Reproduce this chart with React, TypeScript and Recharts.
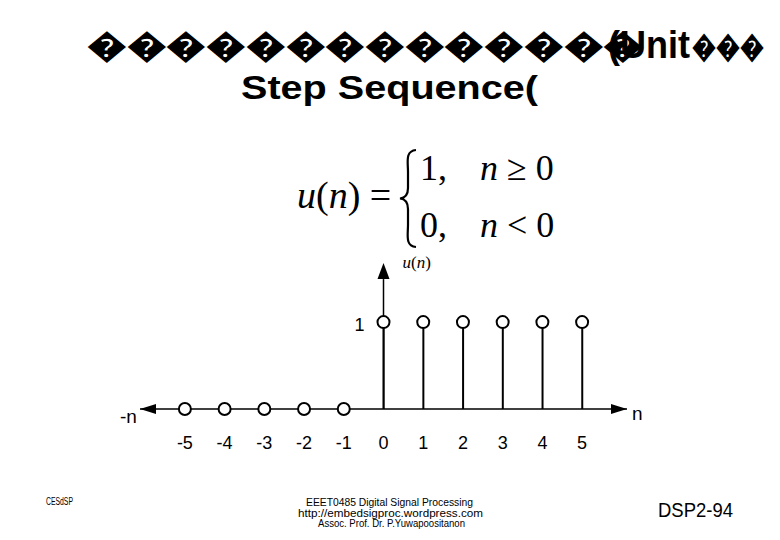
import React from 'react';
import {
  ComposedChart,
  Bar,
  Scatter,
  XAxis,
  YAxis,
  ReferenceLine,
  ReferenceDot,
} from 'recharts';

// sample index n and unit step value u(n)
const nValues = [-5, -4, -3, -2, -1, 0, 1, 2, 3, 4, 5];
const uValues = [0, 0, 0, 0, 0, 1, 1, 1, 1, 1, 1];
const xTicks = [-5, -4, -3, -2, -1, 0, 1, 2, 3, 4, 5];

const titleBoxes = '\uFFFD'.repeat(14);
const titleTail = '\uFFFD'.repeat(3);

const data = nValues.map((n, i) => ({ n, u: uValues[i] }));

const X_MIN = -6.13;
const X_MAX = 6.13;
const Y_MAX = 1.68;
const ARROW_BASE = 1.495;

const sans = '"Liberation Sans", Arial, sans-serif';
const serif = '"Liberation Serif", "Times New Roman", serif';

const Circle = (props: any) => {
  const { cx, cy } = props;
  if (cx == null || cy == null) return null;
  return <circle cx={cx} cy={cy} r={6} fill="#fff" stroke="#000" strokeWidth={2} />;
};

const LeftArrow = (props: any) => {
  const { cx, cy } = props;
  return (
    <g>
      <polygon points={`${cx},${cy} ${cx + 16},${cy - 5} ${cx + 16},${cy + 5}`} fill="#000" />
      <text x={cx - 20} y={cy + 14} fontFamily={sans} fontSize={19} fill="#000">
        -n
      </text>
    </g>
  );
};

const RightArrow = (props: any) => {
  const { cx, cy } = props;
  return (
    <g>
      <polygon points={`${cx},${cy} ${cx - 16},${cy - 5} ${cx - 16},${cy + 5}`} fill="#000" />
      <text x={cx + 5} y={cy + 11} fontFamily={sans} fontSize={19} fill="#000">
        n
      </text>
    </g>
  );
};

const UpArrow = (props: any) => {
  const { cx, cy } = props;
  return (
    <g>
      <polygon points={`${cx},${cy} ${cx - 6},${cy + 16} ${cx + 6},${cy + 16}`} fill="#000" />
      <text x={cx + 19} y={cy + 5} fontFamily={serif} fontSize={17} fill="#000">
        <tspan fontStyle="italic">u</tspan>(<tspan fontStyle="italic">n</tspan>)
      </text>
    </g>
  );
};

const OneLabel = (props: any) => {
  const { cx, cy } = props;
  return (
    <text x={cx - 24} y={cy + 9} fontFamily={sans} fontSize={18} textAnchor="middle" fill="#000">
      1
    </text>
  );
};

export default function App() {
  return (
    <div style={{ position: 'absolute', left: 0, top: 0, width: 780, height: 540, background: '#fff' }}>
      <ComposedChart
        width={780}
        height={540}
        data={data}
        margin={{ top: 263, right: 153, bottom: 91, left: 140 }}
      >
        <XAxis
          dataKey="n"
          type="number"
          domain={[X_MIN, X_MAX]}
          ticks={xTicks}
          interval={0}
          height={40}
          tickLine={false}
          tickMargin={21}
          axisLine={{ stroke: '#000', strokeWidth: 1.5 }}
          tick={{ fill: '#000', fontSize: 18, fontFamily: sans }}
        />
        <YAxis type="number" domain={[0, Y_MAX]} hide />
        <Bar dataKey="u" barSize={2} fill="#000" isAnimationActive={false} />
        <ReferenceLine
          segment={[
            { x: 0, y: 0 },
            { x: 0, y: ARROW_BASE },
          ]}
          stroke="#000"
          strokeWidth={1.5}
          ifOverflow="visible"
        />
        <ReferenceDot x={X_MIN} y={0} ifOverflow="visible" shape={LeftArrow} />
        <ReferenceDot x={X_MAX} y={0} ifOverflow="visible" shape={RightArrow} />
        <ReferenceDot x={0} y={Y_MAX} ifOverflow="visible" shape={UpArrow} />
        <ReferenceDot x={0} y={1} ifOverflow="visible" shape={OneLabel} />
        <Scatter dataKey="u" shape={Circle} isAnimationActive={false} />
      </ComposedChart>

      <svg
        width={780}
        height={540}
        style={{ position: 'absolute', left: 0, top: 0, pointerEvents: 'none' }}
      >
        {/* title */}
        <text x={87} y={57} fontFamily={sans} fontWeight="bold" fontSize={33} textLength={556} lengthAdjust="spacingAndGlyphs">
          {titleBoxes}
        </text>
        <text x={692} y={57} fontFamily={sans} fontWeight="bold" fontSize={30} textLength={72} lengthAdjust="spacingAndGlyphs">
          {titleTail}
        </text>
        <text x={608} y={58} fontFamily={sans} fontWeight="bold" fontSize={38} textLength={82} lengthAdjust="spacingAndGlyphs">
          (Unit
        </text>
        <text x={241} y={99} fontFamily={sans} fontWeight="bold" fontSize={34} textLength={297} lengthAdjust="spacingAndGlyphs">
          Step Sequence(
        </text>

        {/* formula */}
        <text x={297} y={208} fontFamily={serif} fontSize={38}>
          <tspan fontStyle="italic">u</tspan>(<tspan fontStyle="italic">n</tspan>) =
        </text>
        <path
          d="M416,150 C405,151 408,162 408,172 L408,188 C408,195 405,198 400,198.5 C405,199 408,202 408,209 L408,225 C408,235 405,246 416,247"
          fill="none"
          stroke="#000"
          strokeWidth={2.2}
        />
        <text x={420} y={180} fontFamily={serif} fontSize={36}>
          1,
        </text>
        <text x={480} y={180} fontFamily={serif} fontSize={36}>
          <tspan fontStyle="italic">n</tspan> ≥ 0
        </text>
        <text x={420} y={237} fontFamily={serif} fontSize={36}>
          0,
        </text>
        <text x={480} y={237} fontFamily={serif} fontSize={36}>
          <tspan fontStyle="italic">n</tspan> &lt; 0
        </text>

        {/* footer */}
        <text x={46} y={505} fontFamily={sans} fontSize={10} textLength={27} lengthAdjust="spacingAndGlyphs">
          CESdSP
        </text>
        <text x={306} y={506} fontFamily={sans} fontSize={10.5} textLength={167} lengthAdjust="spacingAndGlyphs">
          EEET0485 Digital Signal Processing
        </text>
        <text x={298} y={516.5} fontFamily={sans} fontSize={10.5} textLength={185} lengthAdjust="spacingAndGlyphs">
          http://embedsigproc.wordpress.com
        </text>
        <text x={318} y={527} fontFamily={sans} fontSize={10.5} textLength={147} lengthAdjust="spacingAndGlyphs">
          Assoc. Prof. Dr. P.Yuwapoositanon
        </text>
        <text x={658} y={517} fontFamily={sans} fontSize={21} textLength={75} lengthAdjust="spacingAndGlyphs">
          DSP2-94
        </text>
      </svg>
    </div>
  );
}
